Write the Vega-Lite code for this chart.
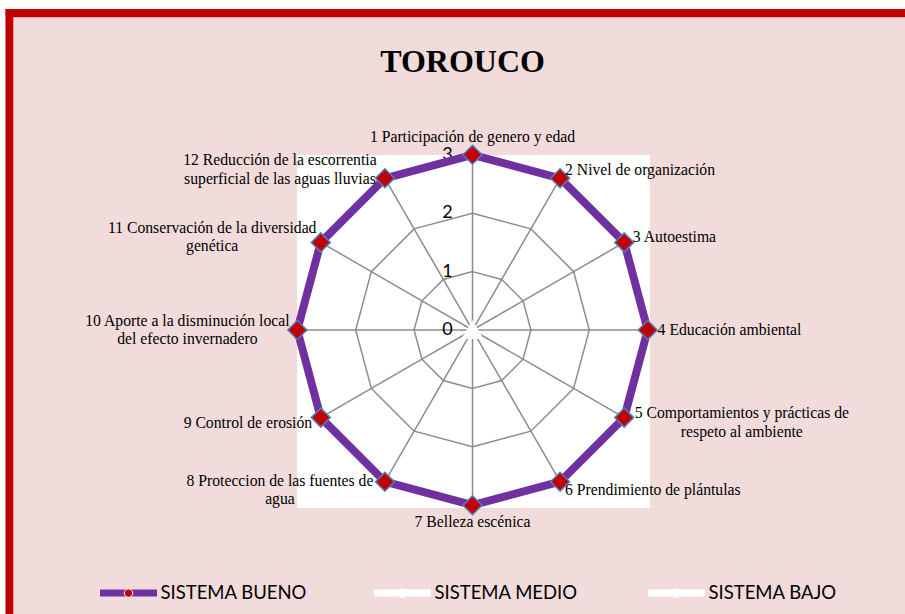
{
  "$schema": "https://vega.github.io/schema/vega-lite/v6.json",
  "width": 905,
  "height": 614,
  "autosize": {"type": "none"},
  "padding": 0,
  "background": "#F2DCDB",
  "config": {"view": {"stroke": null}, "text": {"lineBreak": "\n"}},
  "datasets": {
    "ejes": [
      {"id": 1, "etiqueta": "1 Participación de genero y edad", "SISTEMA BUENO": 3, "SISTEMA MEDIO": 0, "SISTEMA BAJO": 0},
      {"id": 2, "etiqueta": "2 Nivel de organización", "SISTEMA BUENO": 3, "SISTEMA MEDIO": 0, "SISTEMA BAJO": 0},
      {"id": 3, "etiqueta": "3 Autoestima", "SISTEMA BUENO": 3, "SISTEMA MEDIO": 0, "SISTEMA BAJO": 0},
      {"id": 4, "etiqueta": "4 Educación ambiental", "SISTEMA BUENO": 3, "SISTEMA MEDIO": 0, "SISTEMA BAJO": 0},
      {"id": 5, "etiqueta": "5 Comportamientos y prácticas de\nrespeto al ambiente", "SISTEMA BUENO": 3, "SISTEMA MEDIO": 0, "SISTEMA BAJO": 0},
      {"id": 6, "etiqueta": "6 Prendimiento de plántulas", "SISTEMA BUENO": 3, "SISTEMA MEDIO": 0, "SISTEMA BAJO": 0},
      {"id": 7, "etiqueta": "7 Belleza escénica", "SISTEMA BUENO": 3, "SISTEMA MEDIO": 0, "SISTEMA BAJO": 0},
      {"id": 8, "etiqueta": "8 Proteccion de las fuentes de\nagua", "SISTEMA BUENO": 3, "SISTEMA MEDIO": 0, "SISTEMA BAJO": 0},
      {"id": 9, "etiqueta": "9 Control de erosión", "SISTEMA BUENO": 3, "SISTEMA MEDIO": 0, "SISTEMA BAJO": 0},
      {"id": 10, "etiqueta": "10 Aporte a la disminución local\ndel efecto invernadero", "SISTEMA BUENO": 3, "SISTEMA MEDIO": 0, "SISTEMA BAJO": 0},
      {"id": 11, "etiqueta": "11 Conservación de la diversidad\ngenética", "SISTEMA BUENO": 3, "SISTEMA MEDIO": 0, "SISTEMA BAJO": 0},
      {"id": 12, "etiqueta": "12 Reducción de la escorrentia\nsuperficial de las aguas lluvias", "SISTEMA BUENO": 3, "SISTEMA MEDIO": 0, "SISTEMA BAJO": 0}
    ],
    "rejilla": [
      {"nivel": 0, "eje": [1, 2, 3, 4, 5, 6, 7, 8, 9, 10, 11, 12]},
      {"nivel": 1, "eje": [1, 2, 3, 4, 5, 6, 7, 8, 9, 10, 11, 12]},
      {"nivel": 2, "eje": [1, 2, 3, 4, 5, 6, 7, 8, 9, 10, 11, 12]},
      {"nivel": 3, "eje": [1, 2, 3, 4, 5, 6, 7, 8, 9, 10, 11, 12]}
    ],
    "marcas": [{"t": 0}, {"t": 1}, {"t": 2}, {"t": 3}],
    "titulo": [{"titulo": "TOROUCO"}]
  },
  "layer": [
    {
      "data": {"name": "rejilla"},
      "transform": [
        {"flatten": ["eje"]},
        {"filter": "datum.nivel > 0"},
        {"calculate": "(datum.eje - 1) * PI / 6", "as": "theta"},
        {"calculate": "datum.nivel * sin(datum.theta)", "as": "gx"},
        {"calculate": "datum.nivel * cos(datum.theta)", "as": "gy"}
      ],
      "mark": {"type": "line", "interpolate": "linear-closed", "strokeWidth": 0, "strokeOpacity": 0},
      "encoding": {
        "x": {"field": "gx", "type": "quantitative", "axis": null, "scale": {"domain": [-8.091, 7.406], "nice": false, "zero": false}},
        "y": {"field": "gy", "type": "quantitative", "axis": null, "scale": {"domain": [-4.863, 5.651], "nice": false, "zero": false}},
        "detail": {"field": "nivel", "type": "nominal"},
        "order": {"field": "eje", "type": "quantitative"}
      }
    },
    {
      "data": {"name": "titulo"},
      "mark": {"type": "rule", "stroke": "#C00000", "strokeWidth": 8},
      "encoding": {"x": {"datum": -7.932, "type": "quantitative", "axis": null}}
    },
    {
      "data": {"name": "titulo"},
      "mark": {"type": "rule", "stroke": "#C00000", "strokeWidth": 8.3},
      "encoding": {"y": {"datum": 5.425, "type": "quantitative", "axis": null}}
    },
    {
      "data": {"name": "titulo"},
      "mark": {"type": "rule", "stroke": "#FFFFFF", "strokeWidth": 5.4},
      "encoding": {"x": {"datum": -8.046, "type": "quantitative", "axis": null}}
    },
    {
      "data": {"name": "titulo"},
      "mark": {"type": "rule", "stroke": "#FFFFFF", "strokeWidth": 9},
      "encoding": {"y": {"datum": 5.574, "type": "quantitative", "axis": null}}
    },
    {
      "data": {"name": "titulo"},
      "mark": {"type": "point", "shape": "square", "filled": true, "fill": "#FFFFFF", "opacity": 1, "strokeWidth": 0, "size": 124609},
      "encoding": {
        "x": {"datum": 0.017, "type": "quantitative", "axis": null},
        "y": {"datum": -0.026, "type": "quantitative", "axis": null}
      }
    },
    {
      "data": {"name": "titulo"},
      "mark": {"type": "text", "font": "Liberation Serif", "fontWeight": "bold", "fontSize": 32, "align": "center", "baseline": "alphabetic", "color": "#000000"},
      "encoding": {
        "x": {"datum": -0.171, "type": "quantitative", "axis": null},
        "y": {"datum": 4.423, "type": "quantitative", "axis": null},
        "text": {"field": "titulo", "type": "nominal"}
      }
    },
    {
      "data": {"name": "rejilla"},
      "transform": [
        {"flatten": ["eje"]},
        {"filter": "datum.nivel > 0"},
        {"calculate": "(datum.eje - 1) * PI / 6", "as": "theta"},
        {"calculate": "datum.nivel * sin(datum.theta)", "as": "gx"},
        {"calculate": "datum.nivel * cos(datum.theta)", "as": "gy"}
      ],
      "mark": {"type": "line", "interpolate": "linear-closed", "stroke": "#8C8C8C", "strokeWidth": 1.5},
      "encoding": {
        "x": {"field": "gx", "type": "quantitative", "axis": null},
        "y": {"field": "gy", "type": "quantitative", "axis": null},
        "detail": {"field": "nivel", "type": "nominal"},
        "order": {"field": "eje", "type": "quantitative"}
      }
    },
    {
      "data": {"name": "rejilla"},
      "transform": [
        {"flatten": ["eje"]},
        {"calculate": "(datum.eje - 1) * PI / 6", "as": "theta"},
        {"calculate": "datum.nivel * sin(datum.theta)", "as": "gx"},
        {"calculate": "datum.nivel * cos(datum.theta)", "as": "gy"}
      ],
      "mark": {"type": "line", "stroke": "#8C8C8C", "strokeWidth": 1.5},
      "encoding": {
        "x": {"field": "gx", "type": "quantitative", "axis": null},
        "y": {"field": "gy", "type": "quantitative", "axis": null},
        "detail": {"field": "eje", "type": "nominal"},
        "order": {"field": "nivel", "type": "quantitative"}
      }
    },
    {
      "data": {"name": "marcas"},
      "mark": {"type": "text", "font": "Lato", "fontSize": 18, "align": "right", "baseline": "middle", "color": "#000000"},
      "encoding": {
        "x": {"datum": -0.34, "type": "quantitative", "axis": null},
        "y": {"field": "t", "type": "quantitative", "axis": null},
        "text": {"field": "t", "type": "quantitative"}
      }
    },
    {
      "data": {"name": "ejes"},
      "transform": [
        {"fold": ["SISTEMA BUENO", "SISTEMA MEDIO", "SISTEMA BAJO"], "as": ["serie", "valor"]},
        {"calculate": "(datum.id - 1) * PI / 6", "as": "theta"},
        {"calculate": "datum.valor * sin(datum.theta)", "as": "px"},
        {"calculate": "datum.valor * cos(datum.theta)", "as": "py"}
      ],
      "mark": {"type": "line", "interpolate": "linear-closed", "strokeWidth": 8, "strokeJoin": "round"},
      "encoding": {
        "x": {"field": "px", "type": "quantitative", "axis": null},
        "y": {"field": "py", "type": "quantitative", "axis": null},
        "order": {"field": "id", "type": "quantitative"},
        "stroke": {
          "field": "serie",
          "type": "nominal",
          "scale": {"domain": ["SISTEMA BUENO", "SISTEMA MEDIO", "SISTEMA BAJO"], "range": ["#7030A0", "#FFFFFF", "#FFFFFF"]},
          "legend": {
            "orient": "none", "legendX": 96.5, "legendY": 561, "direction": "horizontal", "title": null,
            "symbolType": "stroke", "symbolSize": 3249, "symbolStrokeWidth": 7,
            "labelFont": "Lato", "labelFontSize": 18.5, "labelColor": "#000000", "labelOffset": 0, "labelLimit": 400,
            "columnPadding": 52, "gridAlign": "all", "padding": 0
          }
        }
      }
    },
    {
      "data": {"name": "ejes"},
      "transform": [
        {"fold": ["SISTEMA BUENO", "SISTEMA MEDIO", "SISTEMA BAJO"], "as": ["serie", "valor"]},
        {"filter": "datum.serie !== 'SISTEMA BUENO'"},
        {"calculate": "datum.serie", "as": "serie_m"},
        {"calculate": "(datum.id - 1) * PI / 6", "as": "theta"},
        {"calculate": "datum.valor * sin(datum.theta)", "as": "px"},
        {"calculate": "datum.valor * cos(datum.theta)", "as": "py"}
      ],
      "mark": {"type": "point", "filled": true, "size": 320, "stroke": "#FFFFFF", "strokeWidth": 1.5, "opacity": 1},
      "encoding": {
        "x": {"field": "px", "type": "quantitative", "axis": null},
        "y": {"field": "py", "type": "quantitative", "axis": null},
        "fill": {
          "field": "serie_m", "type": "nominal",
          "sort": ["SISTEMA BUENO", "SISTEMA MEDIO", "SISTEMA BAJO"],
          "scale": {"range": ["#C00000", "#FFFFFF", "#FFFFFF"]},
          "legend": {
            "orient": "none", "legendX": 96.5, "legendY": 583.75, "direction": "horizontal", "title": null,
            "symbolSize": 70, "symbolStrokeWidth": 1, "symbolOffset": 22.75,
            "labelFont": "Lato", "labelFontSize": 18.5, "labelColor": "#000000", "labelOffset": 45.5, "labelLimit": 400, "labelOpacity": 0,
            "columnPadding": 40, "gridAlign": "all", "padding": 0
          }
        },
        "shape": {
          "field": "serie_m", "type": "nominal",
          "sort": ["SISTEMA BUENO", "SISTEMA MEDIO", "SISTEMA BAJO"],
          "scale": {"range": ["diamond", "triangle-up", "triangle-up"]},
          "legend": {
            "orient": "none", "legendX": 96.5, "legendY": 583.75, "direction": "horizontal", "title": null,
            "symbolSize": 70, "symbolStrokeWidth": 1, "symbolOffset": 22.75,
            "labelFont": "Lato", "labelFontSize": 18.5, "labelColor": "#000000", "labelOffset": 45.5, "labelLimit": 400, "labelOpacity": 0,
            "columnPadding": 40, "gridAlign": "all", "padding": 0
          }
        }
      }
    },
    {
      "data": {"name": "ejes"},
      "transform": [
        {"fold": ["SISTEMA BUENO", "SISTEMA MEDIO", "SISTEMA BAJO"], "as": ["serie", "valor"]},
        {"filter": "datum.serie === 'SISTEMA BUENO'"},
        {"calculate": "datum.serie", "as": "serie_m"},
        {"calculate": "(datum.id - 1) * PI / 6", "as": "theta"},
        {"calculate": "datum.valor * sin(datum.theta)", "as": "px"},
        {"calculate": "datum.valor * cos(datum.theta)", "as": "py"}
      ],
      "mark": {"type": "point", "filled": true, "size": 360, "stroke": "#4F81BD", "strokeWidth": 1.5, "opacity": 1},
      "encoding": {
        "x": {"field": "px", "type": "quantitative", "axis": null},
        "y": {"field": "py", "type": "quantitative", "axis": null},
        "fill": {"field": "serie_m", "type": "nominal", "sort": ["SISTEMA BUENO", "SISTEMA MEDIO", "SISTEMA BAJO"]},
        "shape": {"field": "serie_m", "type": "nominal", "sort": ["SISTEMA BUENO", "SISTEMA MEDIO", "SISTEMA BAJO"]}
      }
    },
    {
      "data": {"name": "ejes"},
      "transform": [
        {"calculate": "(datum.id - 1) * PI / 6", "as": "theta"},
        {"calculate": "3.17 * sin(datum.theta)", "as": "lx"},
        {"calculate": "3.17 * cos(datum.theta)", "as": "ly"},
        {"filter": "datum.id === 1"}
      ],
      "mark": {"type": "text", "font": "Liberation Serif", "fontSize": 15.7, "align": "center", "baseline": "bottom", "color": "#000000"},
      "encoding": {
        "x": {"field": "lx", "type": "quantitative", "axis": null},
        "y": {"field": "ly", "type": "quantitative", "axis": null},
        "text": {"field": "etiqueta", "type": "nominal"}
      }
    },
    {
      "data": {"name": "ejes"},
      "transform": [
        {"calculate": "(datum.id - 1) * PI / 6", "as": "theta"},
        {"calculate": "3.17 * sin(datum.theta)", "as": "lx"},
        {"calculate": "3.17 * cos(datum.theta)", "as": "ly"},
        {"filter": "datum.id === 7"}
      ],
      "mark": {"type": "text", "font": "Liberation Serif", "fontSize": 15.7, "align": "center", "baseline": "top", "color": "#000000"},
      "encoding": {
        "x": {"field": "lx", "type": "quantitative", "axis": null},
        "y": {"field": "ly", "type": "quantitative", "axis": null},
        "text": {"field": "etiqueta", "type": "nominal"}
      }
    },
    {
      "data": {"name": "ejes"},
      "transform": [
        {"calculate": "(datum.id - 1) * PI / 6", "as": "theta"},
        {"calculate": "3.17 * sin(datum.theta)", "as": "lx"},
        {"calculate": "3.17 * cos(datum.theta)", "as": "ly"},
        {"filter": "datum.lx > 0.1 && indexof(datum.etiqueta, '\\n') < 0"}
      ],
      "mark": {"type": "text", "font": "Liberation Serif", "fontSize": 15.7, "align": "left", "baseline": "middle", "color": "#000000"},
      "encoding": {
        "x": {"field": "lx", "type": "quantitative", "axis": null},
        "y": {"field": "ly", "type": "quantitative", "axis": null},
        "text": {"field": "etiqueta", "type": "nominal"}
      }
    },
    {
      "data": {"name": "ejes"},
      "transform": [
        {"calculate": "(datum.id - 1) * PI / 6", "as": "theta"},
        {"calculate": "3.17 * sin(datum.theta)", "as": "lx"},
        {"calculate": "3.17 * cos(datum.theta)", "as": "ly"},
        {"filter": "datum.lx > 0.1 && indexof(datum.etiqueta, '\\n') >= 0"}
      ],
      "mark": {"type": "text", "font": "Liberation Serif", "fontSize": 15.7, "align": "center", "baseline": "middle", "dx": 109, "dy": -9.5, "lineHeight": 18.5, "color": "#000000"},
      "encoding": {
        "x": {"field": "lx", "type": "quantitative", "axis": null},
        "y": {"field": "ly", "type": "quantitative", "axis": null},
        "text": {"field": "etiqueta", "type": "nominal"}
      }
    },
    {
      "data": {"name": "ejes"},
      "transform": [
        {"calculate": "(datum.id - 1) * PI / 6", "as": "theta"},
        {"calculate": "3.17 * sin(datum.theta)", "as": "lx"},
        {"calculate": "3.17 * cos(datum.theta)", "as": "ly"},
        {"filter": "datum.lx < -0.1 && indexof(datum.etiqueta, '\\n') < 0"}
      ],
      "mark": {"type": "text", "font": "Liberation Serif", "fontSize": 15.7, "align": "right", "baseline": "middle", "color": "#000000"},
      "encoding": {
        "x": {"field": "lx", "type": "quantitative", "axis": null},
        "y": {"field": "ly", "type": "quantitative", "axis": null},
        "text": {"field": "etiqueta", "type": "nominal"}
      }
    },
    {
      "data": {"name": "ejes"},
      "transform": [
        {"calculate": "(datum.id - 1) * PI / 6", "as": "theta"},
        {"calculate": "3.17 * sin(datum.theta)", "as": "lx"},
        {"calculate": "3.17 * cos(datum.theta)", "as": "ly"},
        {"filter": "datum.lx < -0.1 && indexof(datum.etiqueta, '\\n') >= 0"}
      ],
      "mark": {"type": "text", "font": "Liberation Serif", "fontSize": 15.7, "align": "center", "baseline": "middle", "dx": -100, "dy": -9.5, "lineHeight": 18.5, "color": "#000000"},
      "encoding": {
        "x": {"field": "lx", "type": "quantitative", "axis": null},
        "y": {"field": "ly", "type": "quantitative", "axis": null},
        "text": {"field": "etiqueta", "type": "nominal"}
      }
    }
  ]
}
